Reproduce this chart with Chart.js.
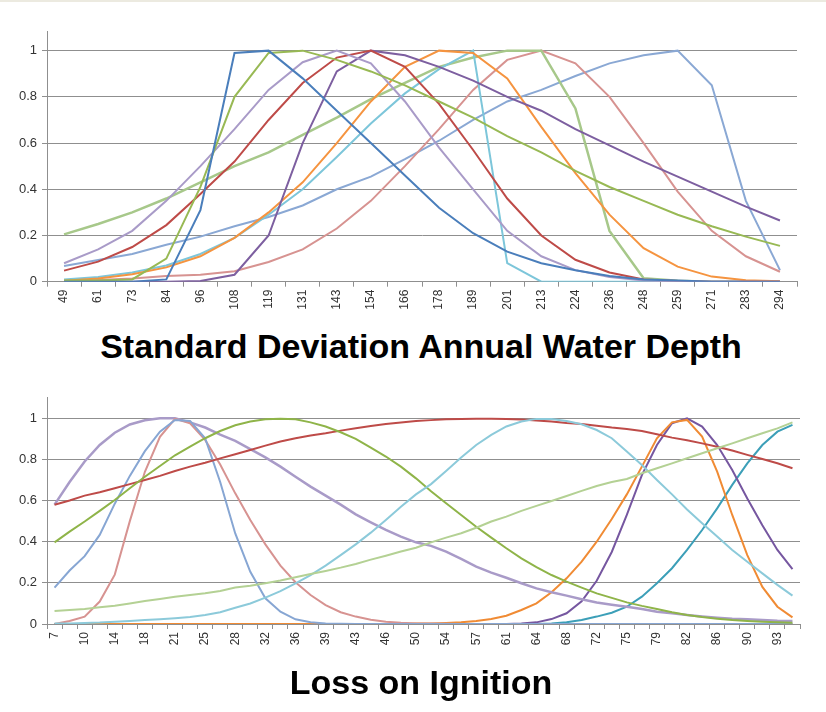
<!DOCTYPE html>
<html><head><meta charset="utf-8">
<script src="https://cdn.jsdelivr.net/npm/chart.js@4.4.1/dist/chart.umd.min.js"></script>
<style>
html,body{margin:0;padding:0;background:#fff;}
body{width:826px;height:712px;position:relative;overflow:hidden;font-family:"Liberation Sans",Arial,sans-serif;}
#topline{position:absolute;left:0;top:0;width:826px;height:2px;background:#ECEAE0;}
canvas{position:absolute;left:0;}
.title{position:absolute;left:0;width:842px;text-align:center;font-weight:bold;font-size:34px;color:#000;line-height:40px;white-space:nowrap;}
</style></head><body>
<div id="topline"></div>
<canvas id="c1" width="826" height="320" style="top:0px"></canvas>
<canvas id="c2" width="826" height="285" style="top:380px"></canvas>
<div class="title" style="top:326px">Standard Deviation Annual Water Depth</div>
<div class="title" style="top:662px">Loss on Ignition</div>
<script>
// ---------- Top chart: Standard Deviation Annual Water Depth ----------
const sdLabels = ['49','61','73','84','96','108','119','131','143','154','166','178','189','201','213','224','236','248','259','271','283','294'];
const sdBlue      = [0,0,0,0.01,0.31,0.99,1.0,0.88,0.74,0.60,0.46,0.32,0.21,0.13,0.08,0.05,0.025,0.01,0.005,0,0,0];
const sdGreen     = [0.005,0.005,0.01,0.10,0.41,0.80,0.99,1.0,0.96,0.91,0.85,0.78,0.71,0.63,0.56,0.48,0.41,0.35,0.29,0.24,0.195,0.155];
const sdLavender  = [0.08,0.14,0.22,0.35,0.50,0.66,0.83,0.95,1.0,0.945,0.78,0.58,0.40,0.22,0.11,0.05,0.02,0.005,0,0,0,0];
const sdRed       = [0.048,0.087,0.15,0.245,0.38,0.52,0.70,0.86,0.97,1.0,0.93,0.77,0.57,0.36,0.20,0.095,0.04,0.01,0.003,0,0,0];
const sdPurple    = [0,0,0,0,0.003,0.03,0.20,0.60,0.91,1.0,0.98,0.93,0.87,0.80,0.74,0.66,0.59,0.52,0.455,0.39,0.325,0.265];
const sdOrange    = [0.004,0.014,0.032,0.062,0.11,0.19,0.30,0.43,0.60,0.78,0.93,1.0,0.99,0.88,0.67,0.47,0.29,0.145,0.065,0.022,0.006,0.002];
const sdAqua      = [0.01,0.02,0.04,0.07,0.12,0.19,0.29,0.40,0.54,0.685,0.815,0.92,1.0,0.08,0,0,0,0,0,0,0,0];
const sdLightGreen= [0.205,0.25,0.30,0.36,0.43,0.50,0.56,0.635,0.71,0.79,0.86,0.93,0.97,1.0,1.0,0.75,0.22,0.015,0.004,0,0,0];
const sdPink      = [0.003,0.007,0.014,0.025,0.03,0.045,0.085,0.14,0.23,0.35,0.50,0.66,0.83,0.96,1.0,0.945,0.80,0.60,0.39,0.22,0.11,0.043];
const sdLightBlue = [0.068,0.094,0.12,0.16,0.195,0.24,0.28,0.33,0.40,0.455,0.53,0.61,0.70,0.78,0.83,0.89,0.945,0.98,1.0,0.85,0.35,0.05];

// ---------- Bottom chart: Loss on Ignition ----------
const loiLabels = ['7','9','10','12','14','16','18','19','21','23','25','27','28','30','32','34','36','37','39','41','43','45','46','48','50',
                   '52','54','55','57','59','61','63','64','66','68','70','72','73','75','77','79','81','82','84','86','88','90','91','93','95'];
const loiLavender = [0.58,0.69,0.79,0.87,0.93,0.97,0.99,1.0,1.0,0.98,0.955,0.92,0.89,0.85,0.81,0.765,0.716,0.668,0.624,0.58,0.533,0.494,0.457,0.425,0.397,
                     0.38,0.352,0.316,0.279,0.25,0.225,0.198,0.173,0.154,0.138,0.12,0.105,0.094,0.084,0.073,0.06,0.052,0.044,0.037,0.031,0.026,0.023,0.019,0.016,0.015];
const loiRed      = [0.58,0.60,0.624,0.64,0.66,0.68,0.70,0.72,0.744,0.765,0.784,0.805,0.825,0.846,0.867,0.887,0.903,0.916,0.927,0.94,0.951,0.962,0.972,0.98,0.987,
                     0.991,0.995,0.997,0.998,0.998,0.997,0.994,0.989,0.984,0.977,0.972,0.964,0.955,0.948,0.938,0.922,0.906,0.893,0.878,0.862,0.843,0.822,0.802,0.781,0.757];
const loiGreen    = [0.397,0.449,0.498,0.55,0.603,0.66,0.716,0.768,0.82,0.862,0.903,0.938,0.966,0.984,0.995,0.998,0.995,0.98,0.96,0.932,0.90,0.857,0.814,0.765,0.708,
                     0.645,0.587,0.53,0.473,0.42,0.368,0.319,0.276,0.238,0.206,0.177,0.149,0.127,0.105,0.088,0.073,0.057,0.044,0.034,0.026,0.019,0.015,0.011,0.008,0.006];
const loiLightBlue= [0.177,0.26,0.33,0.433,0.585,0.72,0.84,0.935,0.992,0.987,0.903,0.69,0.44,0.254,0.125,0.06,0.023,0.008,0.003,0.001,0,0,0,0,0,
                     0,0,0,0,0,0,0,0,0,0,0,0,0,0,0,0,0,0,0,0,0,0,0,0,0];
const loiPink     = [0,0.015,0.036,0.109,0.24,0.50,0.74,0.91,0.997,0.976,0.895,0.775,0.635,0.506,0.387,0.284,0.203,0.141,0.092,0.057,0.036,0.021,0.011,0.006,0.003,
                     0.002,0.001,0,0,0,0,0,0,0,0,0,0,0,0,0,0,0,0,0,0,0,0,0,0,0];
const loiLightAqua= [0.002,0.003,0.005,0.007,0.011,0.015,0.019,0.023,0.028,0.034,0.044,0.057,0.079,0.10,0.128,0.16,0.198,0.238,0.284,0.335,0.387,0.444,0.506,0.57,0.63,
                     0.68,0.744,0.809,0.87,0.919,0.96,0.984,0.997,0.997,0.987,0.971,0.943,0.903,0.838,0.773,0.70,0.63,0.557,0.49,0.425,0.36,0.303,0.246,0.19,0.138];
const loiLightGreen=[0.063,0.068,0.073,0.081,0.089,0.10,0.112,0.122,0.133,0.141,0.149,0.16,0.177,0.186,0.198,0.211,0.227,0.243,0.258,0.274,0.292,0.313,0.332,0.352,0.371,
                     0.397,0.42,0.441,0.468,0.498,0.522,0.55,0.574,0.598,0.622,0.647,0.671,0.69,0.705,0.733,0.757,0.781,0.806,0.83,0.854,0.878,0.903,0.927,0.951,0.98];
const loiOrange   = [0,0,0,0,0,0,0,0,0,0,0,0,0,0,0,0,0,0,0,0,0,0,0,0.001,0.002,
                     0.003,0.005,0.008,0.015,0.024,0.04,0.068,0.10,0.154,0.222,0.303,0.40,0.51,0.63,0.765,0.903,0.98,0.992,0.911,0.741,0.53,0.335,0.18,0.084,0.032];
const loiPurple   = [0,0,0,0,0,0,0,0,0,0,0,0,0,0,0,0,0,0,0,0,0,0,0,0,0,
                     0,0,0,0,0,0,0.003,0.008,0.024,0.052,0.11,0.21,0.35,0.53,0.724,0.87,0.976,1.0,0.96,0.87,0.749,0.61,0.48,0.36,0.267];
const loiTeal     = [0,0,0,0,0,0,0,0,0,0,0,0,0,0,0,0,0,0,0,0,0,0,0,0,0,
                     0,0,0,0,0,0,0,0,0.003,0.008,0.019,0.036,0.055,0.084,0.133,0.198,0.271,0.36,0.457,0.562,0.676,0.781,0.87,0.935,0.968];

const yTickValues = [0,0.2,0.4,0.6,0.8,1];

Chart.defaults.font.family = '"Liberation Sans", Arial, sans-serif';

function ds(data, color, w){ return {data, borderColor:color, backgroundColor:color, borderWidth:w||2, pointRadius:0, tension:0, fill:false}; }

function makeChart(id, labels, datasets, o){
  return new Chart(document.getElementById(id), {
    type:'line',
    data:{labels, datasets},
    options:{
      responsive:false, animation:false, devicePixelRatio:1,
      layout:{padding:{left:0,right:o.padRight,top:o.padTop,bottom:0}},
      plugins:{legend:{display:false}, tooltip:{enabled:false}, title:{display:false}},
      scales:{
        x:{type:'category', offset:true,
           grid:{offset:true, drawOnChartArea:false, drawTicks:true, tickLength:5, color:'#8f8f8f'},
           border:{display:true, color:'#8f8f8f'},
           ticks:{autoSkip:false, minRotation:90, maxRotation:90, padding:3, color:'#333', font:{size:12},
                  callback:function(v, i){ return (i % o.every === 0) ? this.getLabelForValue(v) : ''; }},
           afterFit:s=>{ s.height = o.xHeight; }
        },
        y:{min:0, max:o.ymax,
           afterBuildTicks:s=>{ s.ticks = yTickValues.map(v=>({value:v})); },
           grid:{color:'#8f8f8f', tickLength:5, drawTicks:true},
           border:{display:true, color:'#8f8f8f'},
           ticks:{padding:5, color:'#333', font:{size:13}, callback:v=>String(Math.round(v*10)/10)},
           afterFit:s=>{ s.width = 47; }
        }
      }
    }
  });
}

makeChart('c1', sdLabels, [
  ds(sdBlue,'#4A7EBB'), ds(sdGreen,'#98B954'), ds(sdLavender,'#A99BC8'), ds(sdRed,'#BE4B48'),
  ds(sdPurple,'#7D5FA0'), ds(sdOrange,'#F59440'), ds(sdAqua,'#7DC6DA'), ds(sdLightGreen,'#A7C88A',2.5),
  ds(sdPink,'#D79391'), ds(sdLightBlue,'#8AA8D4')
], {padRight:29, padTop:31, ymax:1.085, xHeight:38.3, every:1});

makeChart('c2', loiLabels, [
  ds(loiLightGreen,'#B4D194'), ds(loiLightAqua,'#8CCADA'), ds(loiGreen,'#8FB449'), ds(loiRed,'#BE4B48'),
  ds(loiLightBlue,'#87A6D3'), ds(loiPink,'#D79391'), ds(loiLavender,'#A99BC8',2.5),
  ds(loiOrange,'#F08B34'), ds(loiPurple,'#7657A0'), ds(loiTeal,'#3C9FB8')
], {padRight:26, padTop:17.7, ymax:1.1, xHeight:41, every:2});
</script>
</body></html>
